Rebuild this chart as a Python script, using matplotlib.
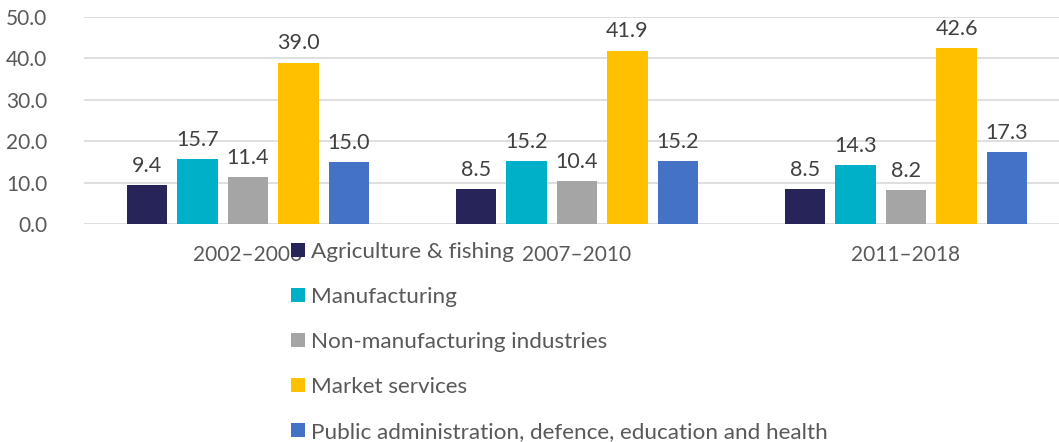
import numpy as np
import matplotlib
matplotlib.use("Agg")
import matplotlib.pyplot as plt

plt.rcParams['font.family'] = ['Lato', 'DejaVu Sans']

periods = ["2002\u20132006", "2007\u20132010", "2011\u20132018"]
sectors = ["Agriculture & fishing", "Manufacturing", "Non-manufacturing industries",
           "Market services", "Public administration, defence, education and health"]
agriculture = [9.4, 8.5, 8.5]
manufacturing = [15.7, 15.2, 14.3]
non_manufacturing = [11.4, 10.4, 8.2]
market_services = [39.0, 41.9, 42.6]
public_admin = [15.0, 15.2, 17.3]
series = [agriculture, manufacturing, non_manufacturing, market_services, public_admin]
colors = ['#262459', '#00b0c8', '#a5a5a5', '#ffc000', '#4472c4']

fig = plt.figure(figsize=(10.59, 4.42), dpi=100)
# plot area runs past the right edge of the picture (cropped like the original)
ax = fig.add_axes([83.5 / 1059, 1 - 224 / 442, 987 / 1059, (224 - 17) / 442])

x = np.arange(len(periods))
width = 0.1216
pitch = 0.1535
handles = []
for i, (vals, c) in enumerate(zip(series, colors)):
    pos = x + (i - 2) * pitch
    b = ax.bar(pos, vals, width, color=c, zorder=3, label=sectors[i])
    handles.append(b)
    for p, v in zip(pos, vals):
        ax.text(p, v + 2.2, f"{v:.1f}", ha='center', va='bottom',
                fontsize=15.5, color='#404040')

ax.set_xlim(-0.5, 2.5)
ax.set_ylim(0, 50)
ax.set_yticks(np.arange(0, 51, 10))
ax.set_yticklabels([f"{t:.1f}" for t in np.arange(0, 51, 10)])
ax.set_xticks(x)
ax.set_xticklabels(periods)
ax.tick_params(axis='both', length=0, labelsize=15, labelcolor='#595959')
ax.tick_params(axis='x', pad=15)
ax.tick_params(axis='y', pad=26)
ax.grid(axis='y', color='#d9d9d9', linewidth=1.2, zorder=0)
for s in ax.spines.values():
    s.set_visible(False)

leg = fig.legend(handles=handles, loc='upper left', bbox_to_anchor=(291 / 1059, 1 - 242 / 442),
                 frameon=False, fontsize=16.2, handlelength=0.62, handleheight=0.62,
                 handletextpad=0.28, labelspacing=1.11, borderaxespad=0, borderpad=0)
for t in leg.get_texts():
    t.set_color('#595959')

fig.savefig("out.png", dpi=100)
